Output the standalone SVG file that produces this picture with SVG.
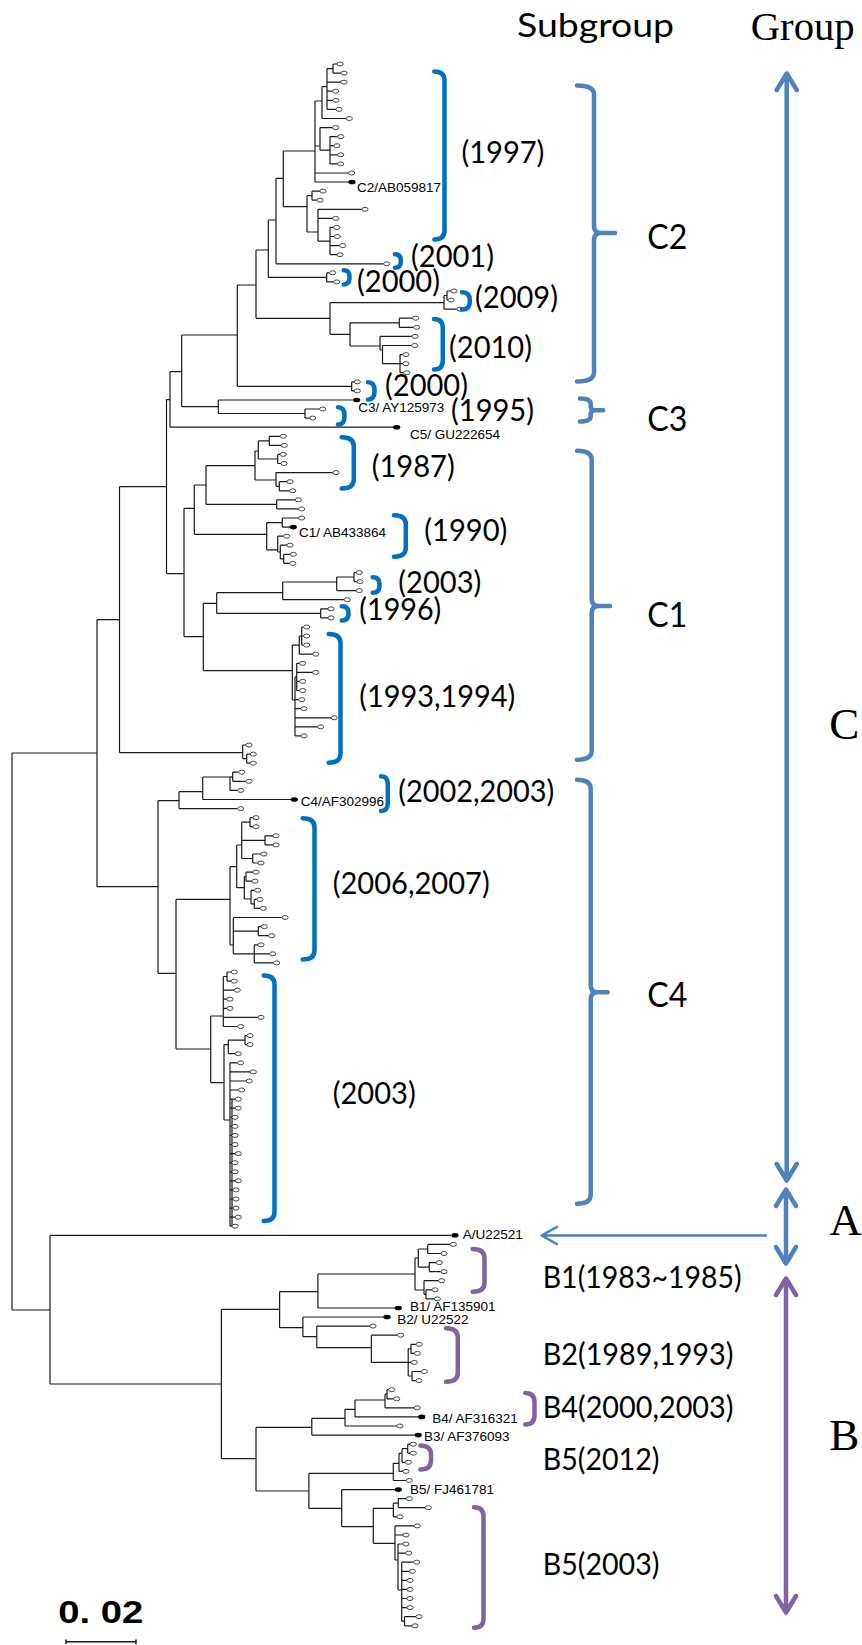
<svg xmlns="http://www.w3.org/2000/svg" width="862" height="1645" viewBox="0 0 862 1645">
<style>
.t{fill:none;stroke:#1a1a1a;stroke-width:1.2}
.yb{fill:none;stroke:#0070c0;stroke-width:4.5;stroke-linecap:round}
.pb{fill:none;stroke:#8064a2;stroke-width:4.5;stroke-linecap:round}
.sb{fill:none;stroke:#4f81bd;stroke-width:4.5;stroke-linecap:round}
.ar{fill:none;stroke:#4f81bd;stroke-width:4.5;stroke-linecap:round;stroke-linejoin:round}
.arp{fill:none;stroke:#8064a2;stroke-width:4.5;stroke-linecap:round;stroke-linejoin:round}
.id{font-family:"Liberation Sans",Arial,sans-serif;font-size:13.5px;fill:#000}
.yr{font-family:Lato,"Open Sans",sans-serif;font-size:30px;fill:#000}
.grp{font-family:"Liberation Serif","Times New Roman",serif;font-size:45px;fill:#000}
</style>
<defs>
<ellipse id="o" cx="0" cy="0" rx="3.1" ry="2" fill="#fff" stroke="#333" stroke-width="0.9"/>
<ellipse id="d" cx="0" cy="0" rx="3.6" ry="2.3" fill="#000"/>
</defs>
<rect width="862" height="1645" fill="#fff"/>

<g id="connectors">
<path id="root" class="t" d="M12,753V1310 M12,753H97 M12,1310H50 M97,619.6V886.7 M97,619.6H119.5 M97,886.7H158 M119.5,486.6V752.7 M119.5,752.7H242.7 M119.5,486.6H166.5 M166.5,399.6V573.6 M166.5,399.6H170 M166.5,573.6H184 M170,371.7V427.2 M170,371.7H181.7 M170,427.2H393 M181.7,335V406.7 M181.7,335H237.3 M181.7,406.7H218.3 M242.7,745V758.6 M242.7,745H246 M242.7,758.6H246.7 M246.7,754.1V763.2 M246.7,754.1H250.3 M246.7,763.2H250.3"/>
<path id="clade-C3" class="t" d="M218.3,400V413.5 M218.3,400H353 M218.3,413.5H305 M305,409V418.1 M305,409H319.7 M305,418.1H309.7"/>
<path id="clade-C2" class="t" d="M237.3,285V386.3 M237.3,285H256 M237.3,386.3H351.7 M351.7,381.8V390.9 M351.7,381.8H354.3 M351.7,390.9H354.3 M256,250V318.3 M256,250H268.3 M256,318.3H330 M330,302.7V334.3 M330,302.7H444 M330,334.3H350 M444,295.5V309.2 M444,295.5H447 M444,309.2H457 M447,291V300.1 M447,291H451 M447,300.1H448 M350,322.8V346 M350,322.8H399.3 M350,346H380 M399.3,318.2V327.3 M399.3,318.2H412.7 M399.3,327.3H413.7 M380,336.4V350 M380,336.4H412 M380,350H382.5 M382.5,345.5V363.6 M382.5,345.5H411.7 M382.5,363.6H400 M400,354.6V372.7 M400,354.6H403 M400,363.6H403 M400,372.7H403.7 M268.3,220V277.4 M268.3,220H276 M268.3,277.4H326.7 M326.7,272.8V281.9 M326.7,272.8H329.7 M326.7,281.9H333.7 M276,178.3V263.8 M276,178.3H283.3 M276,263.8H383.7 M283.3,151V206.7 M283.3,151H315 M283.3,206.7H307 M315,101V182 M315,101H322 M315,146H320 M315,173H348.7 M315,182H349 M322,86.7V118.5 M322,86.7H327 M322,118.5H346.3 M327,68.6V109.4 M327,68.6H333 M327,82.2H341 M327,91.2H332.7 M327,100.3H333 M327,109.4H336 M333,64V73.1 M333,64H337 M333,73.1H341 M320,127.6V150.2 M320,127.6H332.7 M320,150.2H330 M330,136.6V163.9 M330,136.6H337.7 M330,145.7H334 M330,154.8H337.7 M330,163.9H337.7 M307,195.7V232 M307,195.7H312 M307,232H318 M312,191.1V200.2 M312,191.1H320 M312,200.2H317 M318,209.3V241.1 M318,209.3H362 M318,218.4H332.7 M318,241.1H330 M330,227.4V254.7 M330,227.4H333.7 M330,236.5H334.3 M330,245.6H339.7 M330,254.7H337"/>
<path id="clade-C1" class="t" d="M184,508.3V636.7 M184,508.3H194.3 M184,636.7H203.3 M194.3,485V534.3 M194.3,485H206 M194.3,534.3H266.7 M206,465.7V504.4 M206,465.7H255 M206,504.4H276.7 M276.7,499.8V508.9 M276.7,499.8H295.3 M276.7,508.9H298.7 M255,451V480 M255,451H258.3 M255,480H276 M258.3,440.9V459 M258.3,440.9H269.3 M258.3,459H277.7 M269.3,436.3V445.4 M269.3,436.3H280.3 M269.3,445.4H281.3 M277.7,454.4V463.5 M277.7,454.4H280.3 M277.7,463.5H281 M276,472.6V486.3 M276,472.6H333 M276,486.3H279.3 M279.3,481.7V490.8 M279.3,481.7H287 M279.3,490.8H289.7 M266.7,522.6V549.8 M266.7,522.6H282.3 M266.7,549.8H277.7 M282.3,518V527.1 M282.3,518H298.7 M282.3,527.1H290 M277.7,536.2V552 M277.7,536.2H283.7 M277.7,552H280.3 M280.3,545.2V558.9 M280.3,545.2H287 M280.3,558.9H283.7 M283.7,554.3V563.4 M283.7,554.3H290.3 M283.7,563.4H289.7 M203.3,603.3V670.7 M203.3,603.3H216.7 M203.3,670.7H292.3 M216.7,592.7V613.4 M216.7,592.7H282.7 M216.7,613.4H320.7 M320.7,608.8V617.9 M320.7,608.8H328 M320.7,617.9H328 M282.7,582V599.7 M282.7,582H336.7 M282.7,599.7H344.3 M336.7,577V590.6 M336.7,577H354 M336.7,590.6H356.3 M354,572.5V581.6 M354,572.5H356.3 M354,581.6H357 M292.3,645.1V700 M292.3,645.1H299.3 M292.3,700H295 M299.3,636V654.2 M299.3,636H301.7 M299.3,654.2H312.7 M301.7,627V645.1 M301.7,627H303.7 M301.7,636H303.7 M301.7,645.1H303.7 M295,676.9V735.9 M295,676.9H296.7 M295,699.6H298.7 M295,708.7H301 M295,717.8H331.3 M295,726.8H317.7 M295,735.9H301 M296.7,663.3V690.5 M296.7,663.3H299.7 M296.7,672.4H312.7 M296.7,681.4H299.7 M296.7,690.5H299.7"/>
<path id="clade-C4" class="t" d="M158,800.7V973.3 M158,800.7H179 M158,973.3H176 M179,791.7V808.6 M179,791.7H202.7 M179,808.6H237.7 M202.7,777V799.5 M202.7,777H230 M202.7,799.5H291 M230,776.8V790.4 M230,776.8H232.7 M230,790.4H237.7 M232.7,772.2V781.3 M232.7,772.2H238.7 M232.7,781.3H246 M176,899.3V1049 M176,899.3H230 M176,1049H210.7 M230,866.7V945 M230,866.7H236.7 M230,945H233.3 M236.7,845V887.7 M236.7,845H241.7 M236.7,887.7H244.3 M241.7,822.2V858.5 M241.7,822.2H250 M241.7,840.4H265 M241.7,858.5H252.7 M250,817.6V826.7 M250,817.6H253 M250,826.7H253 M265,835.8V844.9 M265,835.8H273 M265,844.9H273 M252.7,854V863 M252.7,854H261 M252.7,863H258 M244.3,876.7V899 M244.3,876.7H246 M244.3,899H251 M246,872.1V881.2 M246,872.1H253 M246,881.2H252 M251,890.3V903.9 M251,890.3H254.7 M251,903.9H254.3 M254.3,899.4V908.4 M254.3,899.4H257 M254.3,908.4H260.3 M233.3,917.5V953.8 M233.3,917.5H282 M233.3,931.2H258.3 M233.3,953.8H254.3 M258.3,926.6V935.7 M258.3,926.6H261.3 M258.3,935.7H268.7 M254.3,944.8V962.9 M254.3,944.8H258 M254.3,953.8H269.7 M254.3,962.9H273.7 M210.7,1016V1082.7 M210.7,1016H223.3 M210.7,1082.7H224 M223.3,976.5V1026.5 M223.3,976.5H227 M223.3,990.2H234.3 M223.3,999.2H227 M223.3,1008.3H227 M223.3,1017.4H258 M223.3,1026.5H237.7 M227,972V981.1 M227,972H231.3 M227,981.1H231.3 M224,1044.6V1120 M224,1044.6H228.3 M224,1120H230 M228.3,1040.1V1053.7 M228.3,1040.1H245 M228.3,1053.7H235.3 M245,1035.6V1044.6 M245,1035.6H247 M245,1044.6H247 M230,1062.8V1226.2 M232,1099V1226.2 M230,1062.8H237.7 M230,1071.9H250.3 M230,1081H246.3 M230,1090H238.7 M230,1099.1H235.3 M230,1108.2H235.3 M230,1117.3H232 M230,1126.4H232 M230,1135.4H232 M230,1144.5H232 M230,1153.6H235.3 M230,1162.7H232 M230,1171.8H232 M230,1180.8H235.3 M230,1189.9H233 M230,1199H233 M230,1208.1H233 M230,1217.2H235.3 M230,1226.2H232"/>
<path id="clade-AB" class="t" d="M50,1235.3V1384 M50,1235.3H451 M50,1384H221.4 M221.4,1309.3V1458.7 M221.4,1309.3H279.6 M221.4,1458.7H256 M279.6,1291.7V1327.7 M279.6,1291.7H317.9 M279.6,1327.7H302.9 M317.9,1274V1308 M317.9,1274H415 M317.9,1308H395 M415,1258V1290 M415,1258H418.3 M415,1290H424 M418.3,1249V1267.1 M418.3,1249H427.7 M418.3,1267.1H429.3 M427.7,1244.4V1253.5 M427.7,1244.4H450.3 M427.7,1253.5H441 M429.3,1262.6V1271.6 M429.3,1262.6H436.3 M429.3,1271.6H441 M424,1280.7V1294.4 M424,1280.7H438.7 M424,1294.4H426 M426,1289.8V1298.9 M426,1289.8H432 M426,1298.9H434.3 M302.9,1317V1336.7 M302.9,1317H384 M302.9,1336.7H316.8 M316.8,1326.1V1347.7 M316.8,1326.1H370 M316.8,1347.7H371.4 M371.4,1335.2V1362.4 M371.4,1335.2H397.7 M371.4,1362.4H408.2 M408.2,1348.8V1376 M408.2,1348.8H411 M408.2,1362.4H411.3 M408.2,1376H412 M411,1344.3V1353.4 M411,1344.3H416.3 M411,1353.4H414.3 M412,1371.5V1380.6 M412,1371.5H421.3 M412,1380.6H416 M256,1427.3V1491 M256,1427.3H311.8 M256,1491H308.9 M311.8,1418.3V1435.1 M311.8,1418.3H345 M311.8,1435.1H415 M345,1409.3V1426 M345,1409.3H355 M345,1426H397 M355,1400V1416.9 M355,1400H385 M355,1416.9H418.5 M385,1394.2V1407.8 M385,1394.2H387 M385,1407.8H414.3 M387,1389.7V1398.8 M387,1389.7H388.7 M387,1398.8H393.7 M308.9,1473.3V1508.3 M308.9,1473.3H393.3 M308.9,1508.3H341.7 M393.3,1463.3V1480.5 M393.3,1463.3H399 M393.3,1480.5H406.3 M399,1453.3V1471.4 M399,1453.3H402 M399,1471.4H403 M402,1448.7V1462.3 M402,1448.7H407.7 M402,1462.3H405.3 M407.7,1444.2V1453.2 M407.7,1444.2H410.3 M407.7,1453.2H410.3 M341.7,1489.6V1526.7 M341.7,1489.6H395 M341.7,1526.7H373.3 M373.3,1508.3V1543.3 M373.3,1508.3H393.3 M373.3,1543.3H395 M393.3,1503.2V1516.8 M393.3,1503.2H398.3 M393.3,1516.8H397 M398.3,1498.6V1507.7 M398.3,1498.6H406.3 M398.3,1507.7H425.3 M395,1525.9V1560 M395,1525.9H414.3 M395,1535H403 M395,1560H398 M398,1544V1590 M398,1544H403 M398,1553.1H405.7 M398,1590H401.7 M401.7,1562.2V1621.2 M401.7,1562.2H413.7 M401.7,1571.3H409.3 M401.7,1580.4H407 M401.7,1589.4H407 M401.7,1598.5H407 M401.7,1607.6H407 M401.7,1621.2H404.5 M404.5,1616.7V1625.8 M404.5,1616.7H416 M404.5,1625.8H412"/>
<path id="arrow-A" class="ar" style="stroke-width:2.5" d="M766,1235.5H542 M557,1226.8L541.5,1235.5L557,1244.2"/>
</g>

<g id="leaves">
<use href="#o" x="340" y="64"/><use href="#o" x="344" y="73.1"/><use href="#o" x="344" y="82.2"/><use href="#o" x="335.7" y="91.2"/><use href="#o" x="336" y="100.3"/><use href="#o" x="339" y="109.4"/><use href="#o" x="349.3" y="118.5"/><use href="#o" x="335.7" y="127.6"/><use href="#o" x="340.7" y="136.6"/><use href="#o" x="337" y="145.7"/><use href="#o" x="340.7" y="154.8"/><use href="#o" x="340.7" y="163.9"/><use href="#o" x="351.7" y="173"/>
<use href="#o" x="323" y="191.1"/><use href="#o" x="320" y="200.2"/><use href="#o" x="365" y="209.3"/><use href="#o" x="335.7" y="218.4"/><use href="#o" x="336.7" y="227.4"/><use href="#o" x="337.3" y="236.5"/><use href="#o" x="342.7" y="245.6"/><use href="#o" x="340" y="254.7"/><use href="#o" x="386.7" y="263.8"/><use href="#o" x="332.7" y="272.8"/><use href="#o" x="336.7" y="281.9"/>
<use href="#o" x="454" y="291"/><use href="#o" x="451" y="300.1"/><use href="#o" x="460" y="309.2"/><use href="#o" x="415.7" y="318.2"/><use href="#o" x="416.7" y="327.3"/><use href="#o" x="415" y="336.4"/><use href="#o" x="414.7" y="345.5"/><use href="#o" x="406" y="354.6"/><use href="#o" x="406" y="363.6"/><use href="#o" x="406.7" y="372.7"/><use href="#o" x="357.3" y="381.8"/><use href="#o" x="357.3" y="390.9"/>
<use href="#o" x="322.7" y="409"/><use href="#o" x="312.7" y="418.1"/>
<use href="#o" x="283.3" y="436.3"/><use href="#o" x="284.3" y="445.4"/><use href="#o" x="283.3" y="454.4"/><use href="#o" x="284" y="463.5"/><use href="#o" x="336" y="472.6"/><use href="#o" x="290" y="481.7"/><use href="#o" x="292.7" y="490.8"/><use href="#o" x="298.3" y="499.8"/><use href="#o" x="301.7" y="508.9"/><use href="#o" x="301.7" y="518"/><use href="#o" x="286.7" y="536.2"/><use href="#o" x="290" y="545.2"/><use href="#o" x="293.3" y="554.3"/><use href="#o" x="292.7" y="563.4"/>
<use href="#o" x="359.3" y="572.5"/><use href="#o" x="360" y="581.6"/><use href="#o" x="359.3" y="590.6"/><use href="#o" x="347.3" y="599.7"/><use href="#o" x="331" y="608.8"/><use href="#o" x="331" y="617.9"/>
<use href="#o" x="306.7" y="627"/><use href="#o" x="306.7" y="636"/><use href="#o" x="306.7" y="645.1"/><use href="#o" x="315.7" y="654.2"/><use href="#o" x="302.7" y="663.3"/><use href="#o" x="315.7" y="672.4"/><use href="#o" x="302.7" y="681.4"/><use href="#o" x="302.7" y="690.5"/><use href="#o" x="301.7" y="699.6"/><use href="#o" x="304" y="708.7"/><use href="#o" x="334.3" y="717.8"/><use href="#o" x="320.7" y="726.8"/><use href="#o" x="304" y="735.9"/>
<use href="#o" x="249" y="745"/><use href="#o" x="253.3" y="754.1"/><use href="#o" x="253.3" y="763.2"/>
<use href="#o" x="241.7" y="772.2"/><use href="#o" x="249" y="781.3"/><use href="#o" x="240.7" y="790.4"/><use href="#o" x="240.7" y="808.6"/>
<use href="#o" x="256" y="817.6"/><use href="#o" x="256" y="826.7"/><use href="#o" x="276" y="835.8"/><use href="#o" x="276" y="844.9"/><use href="#o" x="264" y="854"/><use href="#o" x="261" y="863"/><use href="#o" x="256" y="872.1"/><use href="#o" x="255" y="881.2"/><use href="#o" x="257.7" y="890.3"/><use href="#o" x="260" y="899.4"/><use href="#o" x="263.3" y="908.4"/><use href="#o" x="285" y="917.5"/><use href="#o" x="264.3" y="926.6"/><use href="#o" x="271.7" y="935.7"/><use href="#o" x="261" y="944.8"/><use href="#o" x="272.7" y="953.8"/><use href="#o" x="276.7" y="962.9"/>
<use href="#o" x="234.3" y="972"/><use href="#o" x="234.3" y="981.1"/><use href="#o" x="237.3" y="990.2"/><use href="#o" x="230" y="999.2"/><use href="#o" x="230" y="1008.3"/><use href="#o" x="261" y="1017.4"/><use href="#o" x="240.7" y="1026.5"/><use href="#o" x="250" y="1035.6"/><use href="#o" x="250" y="1044.6"/><use href="#o" x="238.3" y="1053.7"/><use href="#o" x="240.7" y="1062.8"/><use href="#o" x="253.3" y="1071.9"/><use href="#o" x="249.3" y="1081"/><use href="#o" x="241.7" y="1090"/><use href="#o" x="238.3" y="1099.1"/><use href="#o" x="238.3" y="1108.2"/><use href="#o" x="235" y="1117.3"/><use href="#o" x="235" y="1126.4"/><use href="#o" x="235" y="1135.4"/><use href="#o" x="235" y="1144.5"/><use href="#o" x="238.3" y="1153.6"/><use href="#o" x="235" y="1162.7"/><use href="#o" x="235" y="1171.8"/><use href="#o" x="238.3" y="1180.8"/><use href="#o" x="236" y="1189.9"/><use href="#o" x="236" y="1199"/><use href="#o" x="236" y="1208.1"/><use href="#o" x="238.3" y="1217.2"/><use href="#o" x="235" y="1226.2"/>
<use href="#o" x="453.3" y="1244.4"/><use href="#o" x="444" y="1253.5"/><use href="#o" x="439.3" y="1262.6"/><use href="#o" x="444" y="1271.6"/><use href="#o" x="441.7" y="1280.7"/><use href="#o" x="435" y="1289.8"/><use href="#o" x="437.3" y="1298.9"/>
<use href="#o" x="373" y="1326.1"/><use href="#o" x="400.7" y="1335.2"/><use href="#o" x="419.3" y="1344.3"/><use href="#o" x="417.3" y="1353.4"/><use href="#o" x="414.3" y="1362.4"/><use href="#o" x="424.3" y="1371.5"/><use href="#o" x="419" y="1380.6"/>
<use href="#o" x="391.7" y="1389.7"/><use href="#o" x="396.7" y="1398.8"/><use href="#o" x="417.3" y="1407.8"/><use href="#o" x="400" y="1426"/>
<use href="#o" x="413.3" y="1444.2"/><use href="#o" x="413.3" y="1453.2"/><use href="#o" x="408.3" y="1462.3"/><use href="#o" x="406" y="1471.4"/><use href="#o" x="409.3" y="1480.5"/>
<use href="#o" x="409.3" y="1498.6"/><use href="#o" x="428.3" y="1507.7"/><use href="#o" x="400" y="1516.8"/><use href="#o" x="417.3" y="1525.9"/><use href="#o" x="406" y="1535"/><use href="#o" x="406" y="1544"/><use href="#o" x="408.7" y="1553.1"/><use href="#o" x="416.7" y="1562.2"/><use href="#o" x="412.3" y="1571.3"/><use href="#o" x="410" y="1580.4"/><use href="#o" x="410" y="1589.4"/><use href="#o" x="410" y="1598.5"/><use href="#o" x="410" y="1607.6"/><use href="#o" x="419" y="1616.7"/><use href="#o" x="415" y="1625.8"/>
</g>

<g id="reference-strains">
<g id="n-C2"><use href="#d" x="352" y="182"/><text class="id" x="357" y="191.5">C2/AB059817</text></g>
<g id="n-C3"><use href="#d" x="356.7" y="400"/><text class="id" x="358.3" y="411.7">C3/ AY125973</text></g>
<g id="n-C5"><use href="#d" x="396.7" y="427.2"/><text class="id" x="410" y="439">C5/ GU222654</text></g>
<g id="n-C1"><use href="#d" x="293.3" y="527.1"/><text class="id" x="299" y="537.3">C1/ AB433864</text></g>
<g id="n-C4"><use href="#d" x="294.3" y="799.5"/><text class="id" x="300.7" y="805.7">C4/AF302996</text></g>
<g id="n-A"><use href="#d" x="455" y="1235.3"/><text class="id" x="462.7" y="1239">A/U22521</text></g>
<g id="n-B1"><use href="#d" x="398.3" y="1308"/><text class="id" x="410" y="1311">B1/ AF135901</text></g>
<g id="n-B2"><use href="#d" x="387" y="1317"/><text class="id" x="397.3" y="1324">B2/ U22522</text></g>
<g id="n-B4"><use href="#d" x="421.7" y="1416.9"/><text class="id" x="432.3" y="1422.7">B4/ AF316321</text></g>
<g id="n-B3"><use href="#d" x="418.3" y="1435.1"/><text class="id" x="424" y="1440.7">B3/ AF376093</text></g>
<g id="n-B5"><use href="#d" x="398.3" y="1489.6"/><text class="id" x="410" y="1494">B5/ FJ461781</text></g>
</g>

<g id="year-brackets">
<path class="yb" d="M434.3,71.5 Q444.5,71.5 444.5,80.5 V230.5 Q444.5,239.5 434.3,239.5"/>
<path class="yb" d="M395,254.3 Q400.8,254.3 400.8,260.4 V261.7 Q400.8,267.8 395,267.8"/>
<path class="yb" d="M343.7,270.3 Q349.5,270.3 349.5,276.7 V278.1 Q349.5,284.5 343.7,284.5"/>
<path class="yb" d="M462,292.3 Q469.8,292.3 469.8,300.1 V301.7 Q469.8,309.5 462,309.5"/>
<path class="yb" d="M434,319 Q442.8,319 442.8,328 V360.5 Q442.8,369.5 434,369.5"/>
<path class="yb" d="M368,382.3 Q374.5,382.3 374.5,390.1 V391.7 Q374.5,399.5 368,399.5"/>
<path class="yb" d="M338,407.3 Q344.5,407.3 344.5,415.1 V416.7 Q344.5,424.5 338,424.5"/>
<path class="yb" d="M341.7,437.3 Q353.8,437.3 353.8,446.3 V479.5 Q353.8,488.5 341.7,488.5"/>
<path class="yb" d="M394,515.3 Q405.8,515.3 405.8,524.3 V547.8 Q405.8,556.8 394,556.8"/>
<path class="yb" d="M372.7,577.3 Q379.5,577.3 379.5,584.3 V585.8 Q379.5,592.8 372.7,592.8"/>
<path class="yb" d="M341.7,606.3 Q348.5,606.3 348.5,612.8 V614 Q348.5,620.5 341.7,620.5"/>
<path class="yb" d="M328.7,634 Q340.5,634 340.5,643 V753.8 Q340.5,762.8 328.7,762.8"/>
<path class="yb" d="M381,776.3 Q387.8,776.3 387.8,784.3 V803 Q387.8,811 381,811"/>
<path class="yb" d="M302.7,818.3 Q314.5,818.3 314.5,827.3 V950.5 Q314.5,959.5 302.7,959.5"/>
<path class="yb" d="M263.7,975.6 Q274.5,975.6 274.5,984.6 V1212 Q274.5,1221 263.7,1221"/>
<path class="pb" d="M472.7,1249 Q484.5,1249 484.5,1258 V1282.8 Q484.5,1291.8 472.7,1291.8"/>
<path class="pb" d="M446,1328.3 Q457.8,1328.3 457.8,1337.3 V1372.8 Q457.8,1381.8 446,1381.8"/>
<path class="pb" d="M525.3,1393 Q534.5,1393 534.5,1402 V1415.5 Q534.5,1424.5 525.3,1424.5"/>
<path class="pb" d="M420.3,1445.6 Q431,1445.6 431,1454.6 V1460.5 Q431,1469.5 420.3,1469.5"/>
<path class="pb" d="M474,1507.3 Q483.5,1507.3 483.5,1516.3 V1618.8 Q483.5,1627.8 474,1627.8"/>
</g>

<g id="year-labels">
<text class="yr" x="461.4" y="163" textLength="83" lengthAdjust="spacingAndGlyphs">(1997)</text>
<text class="yr" x="411" y="267" textLength="83" lengthAdjust="spacingAndGlyphs">(2001)</text>
<text class="yr" x="357" y="292" textLength="83" lengthAdjust="spacingAndGlyphs">(2000)</text>
<text class="yr" x="475" y="308" textLength="83" lengthAdjust="spacingAndGlyphs">(2009)</text>
<text class="yr" x="449" y="357.5" textLength="83" lengthAdjust="spacingAndGlyphs">(2010)</text>
<text class="yr" x="385" y="396" textLength="83" lengthAdjust="spacingAndGlyphs">(2000)</text>
<text class="yr" x="451" y="421" textLength="83" lengthAdjust="spacingAndGlyphs">(1995)</text>
<text class="yr" x="371.7" y="477" textLength="83" lengthAdjust="spacingAndGlyphs">(1987)</text>
<text class="yr" x="424.3" y="541" textLength="83" lengthAdjust="spacingAndGlyphs">(1990)</text>
<text class="yr" x="398.3" y="593" textLength="83" lengthAdjust="spacingAndGlyphs">(2003)</text>
<text class="yr" x="359.3" y="620" textLength="82" lengthAdjust="spacingAndGlyphs">(1996)</text>
<text class="yr" x="359.3" y="707" textLength="156" lengthAdjust="spacingAndGlyphs">(1993,1994)</text>
<text class="yr" x="398.3" y="802" textLength="156" lengthAdjust="spacingAndGlyphs">(2002,2003)</text>
<text class="yr" x="332.7" y="894" textLength="157" lengthAdjust="spacingAndGlyphs">(2006,2007)</text>
<text class="yr" x="332.7" y="1104" textLength="83" lengthAdjust="spacingAndGlyphs">(2003)</text>
<text class="yr" x="542.7" y="1288.3" textLength="199" lengthAdjust="spacingAndGlyphs">B1(1983~1985)</text>
<text class="yr" x="542.7" y="1365" textLength="190.7" lengthAdjust="spacingAndGlyphs">B2(1989,1993)</text>
<text class="yr" x="542.7" y="1418.3" textLength="190.7" lengthAdjust="spacingAndGlyphs">B4(2000,2003)</text>
<text class="yr" x="542.7" y="1470" textLength="116.7" lengthAdjust="spacingAndGlyphs">B5(2012)</text>
<text class="yr" x="542.7" y="1575" textLength="116.7" lengthAdjust="spacingAndGlyphs">B5(2003)</text>
</g>

<g id="subgroups">
<g id="sg-C2"><path class="sb" d="M577,85.5 Q594,85.5 594,94.5 V226 Q594,233 601,233 H615 M601,233 Q594,233 594,240 V372.5 Q594,381.5 577,381.5"/><text class="yr" x="647.3" y="249" style="font-size:34px" textLength="40" lengthAdjust="spacingAndGlyphs">C2</text></g>
<g id="sg-C3"><path class="sb" d="M580,398.6 Q590.7,398.6 590.7,404 V406.5 Q590.7,410.3 595,410.3 H603.3 M595,410.3 Q590.7,410.3 590.7,414 V416 Q590.7,421.5 580,421.5"/><text class="yr" x="647.3" y="430.8" style="font-size:34px" textLength="40" lengthAdjust="spacingAndGlyphs">C3</text></g>
<g id="sg-C1"><path class="sb" d="M577,450.8 Q591.7,450.8 591.7,459.8 V599 Q591.7,606 598.7,606 H610 M598.7,606 Q591.7,606 591.7,613 V750.8 Q591.7,759.8 577,759.8"/><text class="yr" x="647.3" y="627.4" style="font-size:34px" textLength="40" lengthAdjust="spacingAndGlyphs">C1</text></g>
<g id="sg-C4"><path class="sb" d="M577,779.8 Q590.7,779.8 590.7,788.8 V985.3 Q590.7,992.3 597.7,992.3 H607.7 M597.7,992.3 Q590.7,992.3 590.7,999.3 V1194.8 Q590.7,1203.8 577,1203.8"/><text class="yr" x="647.3" y="1007.4" style="font-size:34px" textLength="40" lengthAdjust="spacingAndGlyphs">C4</text></g>
</g>

<g id="groups">
<g id="grp-C"><path class="ar" d="M786.7,75V1179 M776.7,90L786.7,73.5L796.7,90 M776.7,1164L786.7,1180.5L796.7,1164"/><text class="grp" x="829.3" y="739">C</text></g>
<g id="grp-A"><path class="ar" d="M786,1191V1262 M776,1206L786,1189.5L796,1206 M776,1247L786,1263.5L796,1247"/><text class="grp" x="829.3" y="1235">A</text></g>
<g id="grp-B"><path class="arp" d="M786,1279V1612 M776,1295L786,1278.5L796,1295 M776,1596L786,1612.5L796,1596"/><text class="grp" x="829.3" y="1450">B</text></g>
</g>

<g id="headers">
<text x="517" y="37" style="font-family:Lato,'Open Sans',sans-serif;font-size:32px" textLength="157" lengthAdjust="spacingAndGlyphs">Subgroup</text>
<text x="750.7" y="39.5" style="font-family:'Liberation Serif','Times New Roman',serif;font-size:41px" textLength="104" lengthAdjust="spacingAndGlyphs">Group</text>
</g>

<g id="scale">
<text x="58.3" y="1622.7" style="font-family:'Liberation Sans',Arial,sans-serif;font-size:32px;font-weight:bold" textLength="85" lengthAdjust="spacingAndGlyphs">0. 02</text>
<path class="t" style="stroke-width:1.5" d="M66,1641.7H136 M66,1639.5V1644 M136,1639.5V1644"/>
</g>
</svg>
